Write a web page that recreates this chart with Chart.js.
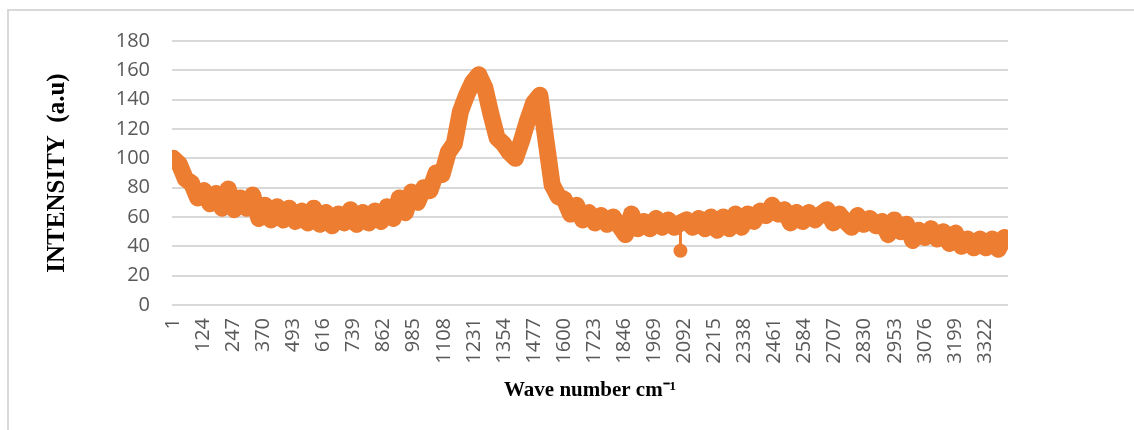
<!DOCTYPE html>
<html>
<head>
<meta charset="utf-8">
<title>Intensity vs wave number</title>
<script src="https://cdn.jsdelivr.net/npm/chart.js@4.4.0/dist/chart.umd.min.js"></script>
<style>
    body { margin: 0; background: #ffffff; }
    #wrap { position: relative; width: 1134px; height: 430px; overflow: hidden; }
    #frame {
        position: absolute;
        left: 7px;
        top: 9px;
        width: 1140px;
        height: 440px;
        border-top: 2px solid #d9d9d9;
        border-left: 2px solid #d9d9d9;
        pointer-events: none;
    }
    canvas { position: absolute; left: 0; top: 0; }
</style>
</head>
<body>
<div id="wrap">
    <canvas id="spectrum" width="1134" height="430"></canvas>
    <div id="frame"></div>
</div>
<script>
// Category ticks shown on the x axis
const waveTicks = [1, 124, 247, 370, 493, 616, 739, 862, 985, 1108, 1231, 1354, 1477, 1600,
    1723, 1846, 1969, 2092, 2215, 2338, 2461, 2584, 2707, 2830, 2953, 3076, 3199, 3322];

// Sampled positions along the category axis
const sampleIndex = [1, 26, 51, 76, 101, 126, 151, 176, 201, 226, 251, 276, 301, 326, 351, 376,
    401, 426, 451, 476, 501, 526, 551, 576, 601, 626, 651, 676, 701, 726, 751, 776, 801, 826,
    851, 876, 901, 926, 951, 976, 1001, 1026, 1051, 1076, 1101, 1126, 1151, 1176, 1201, 1226,
    1251, 1276, 1301, 1326, 1351, 1376, 1401, 1426, 1451, 1476, 1501, 1526, 1551, 1576, 1601,
    1626, 1651, 1676, 1701, 1726, 1751, 1776, 1801, 1826, 1851, 1876, 1901, 1926, 1951, 1976,
    2001, 2026, 2051, 2076, 2101, 2126, 2151, 2176, 2201, 2226, 2251, 2276, 2301, 2326, 2351,
    2376, 2401, 2426, 2451, 2476, 2501, 2526, 2551, 2576, 2601, 2626, 2651, 2676, 2701, 2726,
    2751, 2776, 2801, 2826, 2851, 2876, 2901, 2926, 2951, 2976, 3001, 3026, 3051, 3076, 3101,
    3126, 3151, 3176, 3201, 3226, 3251, 3276, 3301, 3326, 3351, 3376, 3401];

// Intensity (a.u)
const intensity = [100, 96, 86, 83, 73, 78, 69, 76, 66, 79, 65, 73, 66, 75, 59, 68,
    58, 67, 58, 66, 57, 64, 56, 66, 55, 63, 54, 62, 56, 65, 55, 63, 56, 64,
    57, 67, 59, 73, 63, 77, 70, 80, 78, 90, 89, 104, 110, 132, 143, 152,
    157, 148, 130, 114, 110, 104, 100, 112, 126, 138, 143, 112, 82, 74, 72,
    62, 68, 58, 63, 56, 61, 55, 60, 54, 48, 62, 52, 57, 52, 59,
    53, 58, 53, 56, 58, 53, 59, 52, 60, 51, 60, 52, 62, 53, 62,
    57, 64, 61, 68, 62, 65, 56, 63, 57, 63, 58, 62, 65, 56, 62,
    57, 53, 61, 55, 59, 54, 57, 48, 58, 50, 55, 44, 51, 46, 52,
    45, 50, 42, 49, 40, 45, 39, 45, 39, 45, 38, 46];

// The lone low reading near 2092
const dipIndex = 2076;
const dipValue = 37;

const orange = '#ED7D31';
const gridGray = '#d9d9d9';
const tickGray = '#595959';

const points = sampleIndex.map((x, i) => ({ x: x, y: intensity[i] }));
const dipPoints = [
    { x: dipIndex, y: intensity[sampleIndex.indexOf(dipIndex)] },
    { x: dipIndex, y: dipValue }
];

const ctx = document.getElementById('spectrum').getContext('2d');

const spectrumChart = new Chart(ctx, {
    type: 'line',
    data: {
        datasets: [{
            label: 'Intensity',
            data: points,
            borderColor: orange,
            backgroundColor: orange,
            borderWidth: 17,
            borderJoinStyle: 'round',
            borderCapStyle: 'round',
            pointRadius: 8,
            pointBorderWidth: 0,
            pointBackgroundColor: orange,
            tension: 0
        }, {
            label: 'Dip',
            data: dipPoints,
            borderColor: orange,
            borderWidth: 3,
            pointRadius: [0, 7],
            pointBorderWidth: 0,
            pointBackgroundColor: orange
        }]
    },
    options: {
        responsive: false,
        animation: false,
        layout: {
            padding: { left: 0, right: 126, top: 41, bottom: 0 }
        },
        plugins: {
            legend: { display: false },
            tooltip: { enabled: false }
        },
        scales: {
            x: {
                type: 'linear',
                min: -4,
                max: 3416,
                afterBuildTicks: axis => {
                    axis.ticks = waveTicks.map(v => ({ value: v }));
                },
                afterFit: axis => { axis.height = 125; },
                grid: { display: false, drawTicks: false },
                border: { display: false },
                ticks: {
                    autoSkip: false,
                    minRotation: 90,
                    maxRotation: 90,
                    padding: 13,
                    color: tickGray,
                    font: { family: 'Open Sans', size: 20 },
                    callback: value => String(value)
                },
                title: {
                    display: true,
                    text: 'Wave number cm\u207B\u00B9',
                    color: '#000000',
                    font: { family: 'Liberation Serif', size: 21, weight: 'bold' },
                    padding: { top: 0, bottom: 27 }
                }
            },
            y: {
                min: 0,
                max: 180,
                afterFit: axis => { axis.width = 172; },
                grid: { color: gridGray, lineWidth: 2, drawTicks: false },
                border: { display: false },
                ticks: {
                    stepSize: 20,
                    padding: 22,
                    color: tickGray,
                    font: { family: 'Open Sans', size: 20 }
                },
                title: {
                    display: true,
                    text: 'INTENSITY  (a.u)',
                    color: '#000000',
                    font: { family: 'Liberation Serif', size: 25, weight: 'bold' },
                    padding: { top: 43, bottom: 0 }
                }
            }
        }
    }
});
</script>
</body>
</html>
